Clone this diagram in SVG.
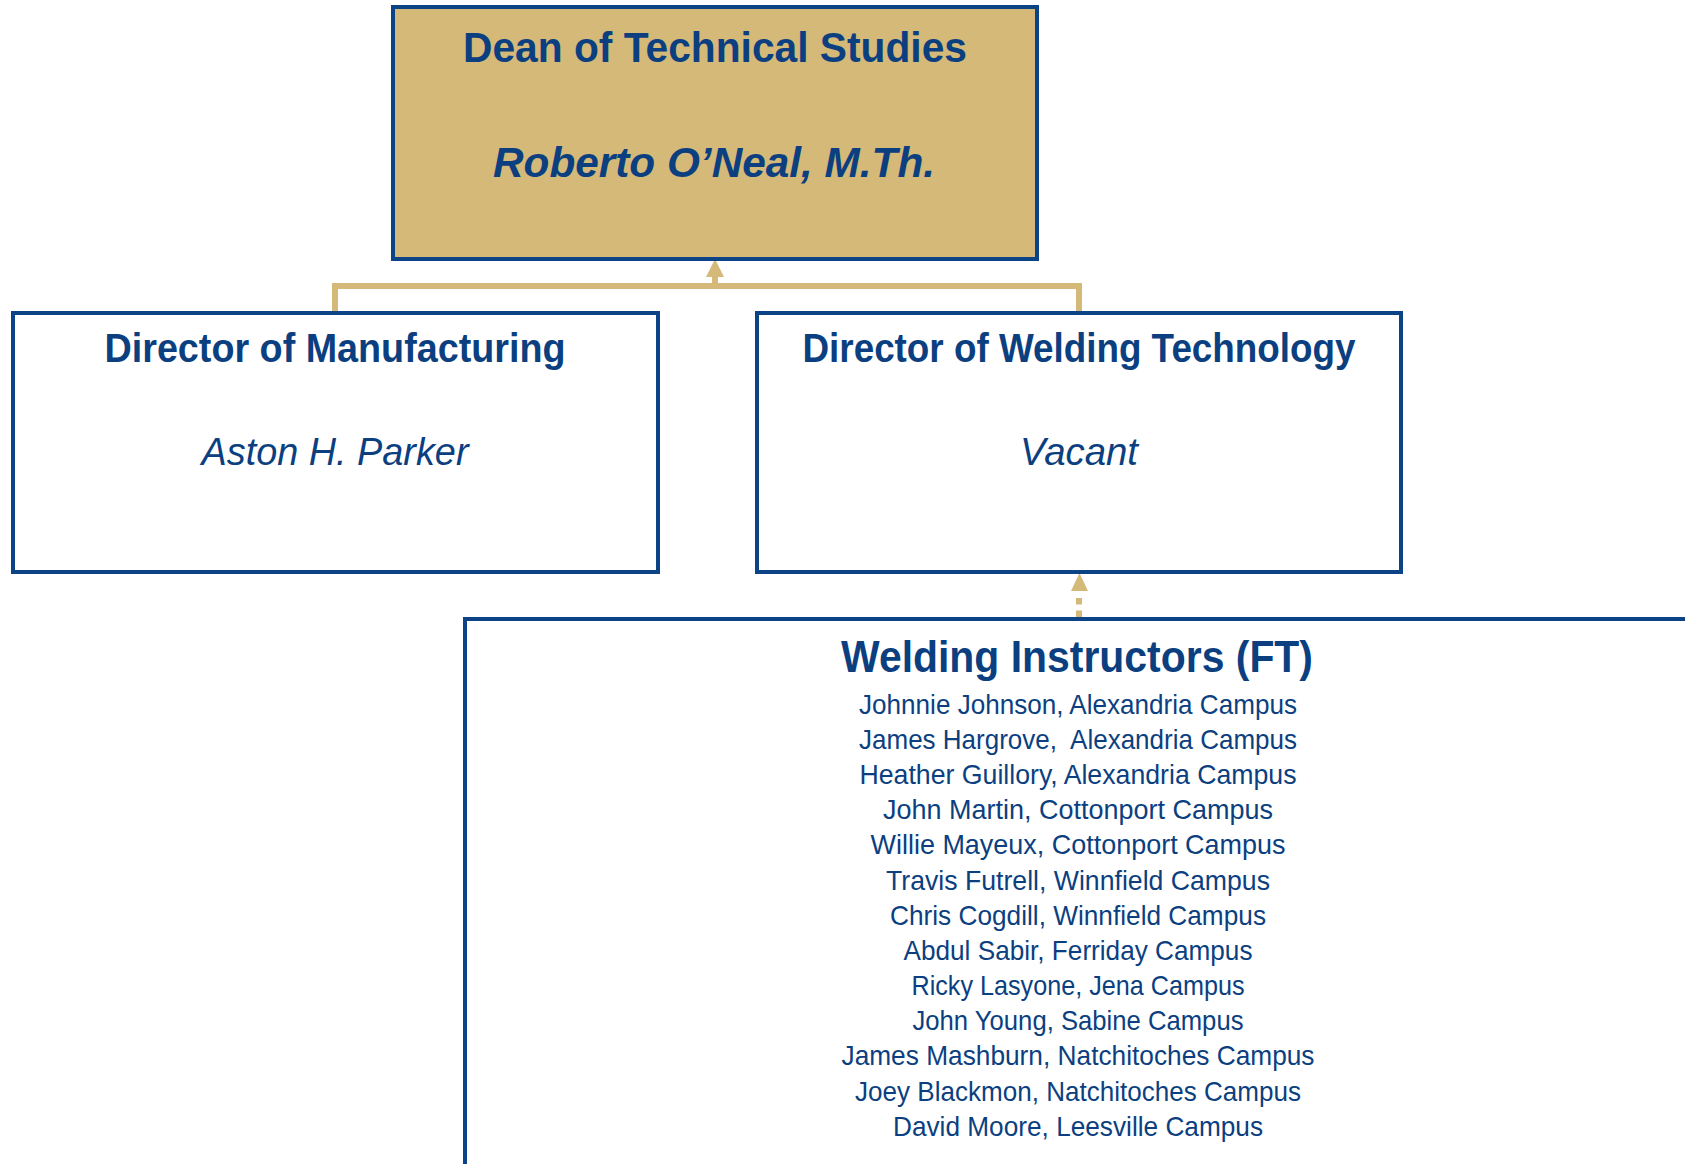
<svg xmlns="http://www.w3.org/2000/svg" width="1685" height="1164" viewBox="0 0 1685 1164">
<style>
.box{fill:#ffffff;stroke:#0B4386;stroke-width:4}
.t{font-family:"Liberation Sans",Arial,sans-serif;fill:#0C3F80;text-anchor:middle}
.h{font-weight:bold}
.i{font-style:italic}
.l{font-size:27.5px}
.conn{fill:none;stroke:#D4B979;stroke-width:6}
.arrow{fill:#D4B979}
</style>
<rect x="0" y="0" width="1685" height="1164" fill="#ffffff"/>
<g id="connectors">
<path class="conn" d="M335,313 V286 H1079 V313"/>
<path class="conn" d="M715,286 V275"/>
<polygon class="arrow" points="715,259 724,277 706,277"/>
<path class="conn" d="M1079,617 V598" stroke-dasharray="6.5,6"/>
<polygon class="arrow" points="1079.5,573 1088,591 1071,591"/>
</g>
<g id="dean">
<rect x="393" y="7" width="644" height="252" fill="#D4B979" stroke="#0B4386" stroke-width="4"/>
<text class="t h" x="715" y="62" font-size="43" textLength="504" lengthAdjust="spacingAndGlyphs">Dean of Technical Studies</text>
<text class="t h i" x="714" y="177" font-size="43" textLength="442" lengthAdjust="spacingAndGlyphs">Roberto O’Neal, M.Th.</text>
</g>
<g id="dir-manufacturing">
<rect class="box" x="13" y="313" width="645" height="259"/>
<text class="t h" x="335" y="362" font-size="40" textLength="461" lengthAdjust="spacingAndGlyphs">Director of Manufacturing</text>
<text class="t i" x="335" y="465" font-size="39" textLength="267" lengthAdjust="spacingAndGlyphs">Aston H. Parker</text>
</g>
<g id="dir-welding">
<rect class="box" x="757" y="313" width="644" height="259"/>
<text class="t h" x="1079" y="362" font-size="40" textLength="553" lengthAdjust="spacingAndGlyphs">Director of Welding Technology</text>
<text class="t i" x="1079" y="465" font-size="39" textLength="118" lengthAdjust="spacingAndGlyphs">Vacant</text>
</g>
<g id="welding-instructors">
<rect class="box" x="465" y="619" width="1300" height="620"/>
<text class="t h" x="1077" y="672" font-size="44" textLength="472" lengthAdjust="spacingAndGlyphs">Welding Instructors (FT)</text>
<text class="t l" x="1078" y="713.5" textLength="438" lengthAdjust="spacingAndGlyphs">Johnnie Johnson, Alexandria Campus</text>
<text class="t l" x="1078" y="748.7" textLength="438" lengthAdjust="spacingAndGlyphs" xml:space="preserve">James Hargrove,  Alexandria Campus</text>
<text class="t l" x="1078" y="783.9" textLength="437" lengthAdjust="spacingAndGlyphs">Heather Guillory, Alexandria Campus</text>
<text class="t l" x="1078" y="819.1" textLength="390" lengthAdjust="spacingAndGlyphs">John Martin, Cottonport Campus</text>
<text class="t l" x="1078" y="854.3" textLength="415" lengthAdjust="spacingAndGlyphs">Willie Mayeux, Cottonport Campus</text>
<text class="t l" x="1078" y="889.5" textLength="384" lengthAdjust="spacingAndGlyphs">Travis Futrell, Winnfield Campus</text>
<text class="t l" x="1078" y="924.6" textLength="376" lengthAdjust="spacingAndGlyphs">Chris Cogdill, Winnfield Campus</text>
<text class="t l" x="1078" y="959.8" textLength="349" lengthAdjust="spacingAndGlyphs">Abdul Sabir, Ferriday Campus</text>
<text class="t l" x="1078" y="995.0" textLength="333" lengthAdjust="spacingAndGlyphs">Ricky Lasyone, Jena Campus</text>
<text class="t l" x="1078" y="1030.2" textLength="331" lengthAdjust="spacingAndGlyphs">John Young, Sabine Campus</text>
<text class="t l" x="1078" y="1065.4" textLength="473" lengthAdjust="spacingAndGlyphs">James Mashburn, Natchitoches Campus</text>
<text class="t l" x="1078" y="1100.6" textLength="446" lengthAdjust="spacingAndGlyphs">Joey Blackmon, Natchitoches Campus</text>
<text class="t l" x="1078" y="1135.8" textLength="370" lengthAdjust="spacingAndGlyphs">David Moore, Leesville Campus</text>
</g>
</svg>
